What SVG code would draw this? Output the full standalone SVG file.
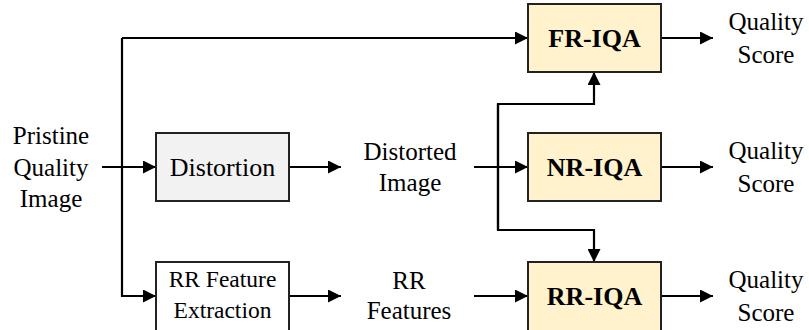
<svg xmlns="http://www.w3.org/2000/svg" width="809" height="330" viewBox="0 0 809 330">
<defs>
<style>
text{font-family:'Liberation Serif','Times New Roman',Times,serif;fill:#000;text-anchor:middle}
.n{font-size:25px}
.b{font-size:26px;font-weight:bold}
.box{stroke:#222;stroke-width:2}
.g{fill:#f2f2f2}
.y{fill:#fff2cc}
.w{fill:#fff}
.c{fill:none;stroke:#000;stroke-width:2.2}
</style>
<marker id="ah" markerUnits="userSpaceOnUse" markerWidth="13" markerHeight="13" refX="12" refY="6" orient="auto" viewBox="0 0 12 12">
<path d="M0,0 L12,6 L0,12 z" fill="#000"/>
</marker>
</defs>
<rect width="809" height="330" fill="#fff"/>
<g id="connectors">
<path class="c" d="M102,167 H156" marker-end="url(#ah)"/>
<path class="c" d="M122,38 V296 H156" marker-end="url(#ah)"/>
<path class="c" d="M122,38 H528" marker-end="url(#ah)"/>
<path class="c" d="M289,167 H341" marker-end="url(#ah)"/>
<path class="c" d="M289,296 H341" marker-end="url(#ah)"/>
<path class="c" d="M474,167 H528" marker-end="url(#ah)"/>
<path class="c" d="M474,296 H528" marker-end="url(#ah)"/>
<path class="c" d="M498,230 V104 H594 V72" marker-end="url(#ah)"/>
<path class="c" d="M498,104 V230 H594 V262" marker-end="url(#ah)"/>
<path class="c" d="M661,38 H713" marker-end="url(#ah)"/>
<path class="c" d="M661,167 H713" marker-end="url(#ah)"/>
<path class="c" d="M661,296 H713" marker-end="url(#ah)"/>
</g>
<g id="pristine">
<text class="n" x="51" y="144">Pristine</text>
<text class="n" x="51" y="176">Quality</text>
<text class="n" x="51" y="207">Image</text>
</g>
<g id="distortion">
<rect class="box g" x="156" y="133" width="133" height="68"/>
<text style="font-size:26px" x="222.5" y="176">Distortion</text>
</g>
<g id="rr-feature-extraction">
<rect class="box w" x="156" y="262" width="133" height="70"/>
<text style="font-size:23.5px" x="222.5" y="287">RR Feature</text>
<text style="font-size:23.5px" x="222.5" y="318">Extraction</text>
</g>
<g id="distorted-image">
<text class="n" x="410" y="160">Distorted</text>
<text class="n" x="410" y="191">Image</text>
</g>
<g id="rr-features">
<text class="n" x="409" y="289">RR</text>
<text class="n" x="409" y="319">Features</text>
</g>
<g id="fr-iqa">
<rect class="box y" x="528" y="4" width="133" height="68"/>
<text class="b" x="594.5" y="47">FR-IQA</text>
</g>
<g id="nr-iqa">
<rect class="box y" x="528" y="133" width="133" height="68"/>
<text class="b" x="594.5" y="176">NR-IQA</text>
</g>
<g id="rr-iqa">
<rect class="box y" x="528" y="262" width="133" height="70"/>
<text class="b" x="594.5" y="305">RR-IQA</text>
</g>
<g id="score-fr">
<text class="n" x="766" y="30">Quality</text>
<text class="n" x="766" y="63">Score</text>
</g>
<g id="score-nr">
<text class="n" x="766" y="159">Quality</text>
<text class="n" x="766" y="192">Score</text>
</g>
<g id="score-rr">
<text class="n" x="766" y="288">Quality</text>
<text class="n" x="766" y="321">Score</text>
</g>
</svg>
